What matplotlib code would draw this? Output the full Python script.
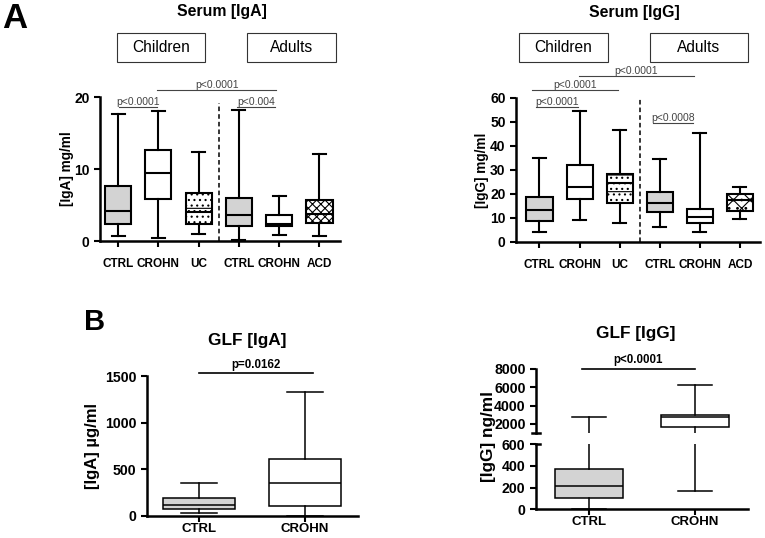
import numpy as np
import matplotlib.pyplot as plt
from matplotlib.patches import Rectangle

plt.rcParams["font.family"] = ["Liberation Sans", "DejaVu Sans"]
plt.rcParams["hatch.linewidth"] = 0.8

# Serum IgA, mg/ml (children: CTRL, CROHN, UC / adults: CTRL, CROHN, ACD)
serum_groups = ["CTRL", "CROHN", "UC", "CTRL", "CROHN", "ACD"]
iga_lo = [0.7, 0.4, 1.0, 0.2, 0.9, 0.7]
iga_q1 = [2.3, 5.8, 2.4, 2.1, 2.1, 2.5]
iga_med = [4.2, 9.5, 4.0, 3.6, 2.4, 3.8]
iga_q3 = [7.7, 12.6, 6.7, 6.0, 3.6, 5.7]
iga_hi = [17.6, 18.0, 12.3, 18.2, 6.3, 12.1]

# Serum IgG, mg/ml
igg_lo = [4.2, 9.1, 8.0, 6.1, 4.3, 9.4]
igg_q1 = [8.7, 17.7, 16.1, 12.3, 7.8, 13.0]
igg_med = [13.3, 23.0, 24.4, 16.1, 10.3, 17.5]
igg_q3 = [18.6, 32.1, 28.3, 20.8, 13.6, 20.1]
igg_hi = [34.8, 54.3, 46.6, 34.5, 45.4, 23.0]

# GLF IgA, ug/ml
glf_groups = ["CTRL", "CROHN"]
glfa_lo = [36, 5]
glfa_q1 = [71, 107]
glfa_med = [118, 357]
glfa_q3 = [196, 614]
glfa_hi = [357, 1325]

# GLF IgG, ng/ml
glfg_lo = [5, 172]
glfg_q1 = [102, 1673]
glfg_med = [218, 2700]
glfg_q3 = [375, 3018]
glfg_hi = [2764, 6290]

# significance brackets: (x1, x2, y, label)
iga_pvals = [(1.02, 1.97, 18.6, "p<0.0001"), (1.97, 4.93, 21.0, "p<0.0001"),
             (3.95, 4.9, 18.6, "p<0.004")]
igg_pvals = [(0.91, 1.96, 56.1, "p<0.0001"), (0.81, 2.96, 63.2, "p<0.0001"),
             (1.99, 4.85, 69.0, "p<0.0001"), (3.83, 4.83, 49.4, "p<0.0008")]


def box_stats(lo, q1, med, q3, hi):
    return [dict(whislo=a, q1=b, med=c, q3=d, whishi=e, fliers=[])
            for a, b, c, d, e in zip(lo, q1, med, q3, hi)]


def draw_boxes(ax, stats, faces, hatches, width, lw):
    art = ax.bxp(stats, widths=width, patch_artist=True, showfliers=False,
                 boxprops=dict(linewidth=lw, edgecolor="black"),
                 whiskerprops=dict(linewidth=lw), capprops=dict(linewidth=lw),
                 medianprops=dict(color="black", linewidth=lw))
    for box, fc, h in zip(art["boxes"], faces, hatches):
        box.set_facecolor(fc)
        box.set_hatch(h)


def style_axes(ax, spine_lw=1.8):
    for s in ["top", "right"]:
        ax.spines[s].set_visible(False)
    for s in ["left", "bottom"]:
        ax.spines[s].set_linewidth(spine_lw)
    ax.tick_params(direction="out", length=4, width=1.5)


def bold_ticks(ax, xsize, ysize):
    for lab in ax.get_xticklabels():
        lab.set_fontweight("bold")
        lab.set_fontsize(xsize)
    for lab in ax.get_yticklabels():
        lab.set_fontweight("bold")
        lab.set_fontsize(ysize)


def bracket(ax, x1, x2, y, txt, color="#444444", lw=0.8, size=7.5, weight="normal", off=1.5):
    ax.plot([x1, x2], [y, y], color=color, lw=lw, clip_on=False)
    ax.annotate(txt, xy=((x1 + x2) / 2, y), xytext=(0, off), textcoords="offset points",
                ha="center", va="baseline", fontsize=size, color=color,
                fontweight=weight, annotation_clip=False)


fig = plt.figure(figsize=(7.65, 5.38), dpi=100)
grey = "#d3d3d3"
serum_faces = [grey, "white", "white", grey, "white", "white"]
pos6 = np.arange(1, 7)

# ---- Serum IgA
ax1 = fig.add_axes([0.1307, 0.552, 0.3137, 0.2677])
draw_boxes(ax1, box_stats(iga_lo, iga_q1, iga_med, iga_q3, iga_hi), serum_faces,
           ["", "", "-...", "", "", "xxxx"], 0.65, 1.5)
ax1.set_xlim(0.55, 6.51)
ax1.set_ylim(0, 20)
ax1.set_yticks([0, 10, 20])
ax1.set_xticks(pos6, serum_groups)
style_axes(ax1)
ax1.tick_params(axis="x", pad=8)
bold_ticks(ax1, 8.5, 10)
ax1.set_ylabel("[IgA] mg/ml", fontsize=9.8, fontweight="bold", labelpad=0)
ax1.plot([3.5, 3.5], [0, 19.2], color="black", lw=1.1, ls=(0, (3, 2)), clip_on=False)
for x1, x2, y, t in iga_pvals:
    bracket(ax1, x1, x2, y, t)

# ---- Serum IgG
ax2 = fig.add_axes([0.6745, 0.5502, 0.319, 0.2682])
draw_boxes(ax2, box_stats(igg_lo, igg_q1, igg_med, igg_q3, igg_hi), serum_faces,
           ["", "", "-...", "", "", "xx.."], 0.65, 1.5)
ax2.set_xlim(0.414, 6.5)
ax2.set_ylim(0, 60)
ax2.set_yticks(np.arange(0, 61, 10))
ax2.set_xticks(pos6, serum_groups)
style_axes(ax2)
ax2.tick_params(axis="x", pad=8)
bold_ticks(ax2, 8.5, 10)
ax2.set_ylabel("[IgG] mg/ml", fontsize=9.8, fontweight="bold", labelpad=1)
ax2.plot([3.5, 3.5], [0, 60], color="black", lw=1.1, ls=(0, (3, 2)), clip_on=False)
for x1, x2, y, t in igg_pvals:
    bracket(ax2, x1, x2, y, t)

# ---- GLF IgA
ax3 = fig.add_axes([0.1922, 0.0409, 0.2758, 0.2602])
draw_boxes(ax3, box_stats(glfa_lo, glfa_q1, glfa_med, glfa_q3, glfa_hi), [grey, "white"],
           ["", ""], 0.67, 1.1)
ax3.set_xlim(0.51, 2.5)
ax3.set_ylim(0, 1500)
ax3.set_yticks([0, 500, 1000, 1500])
ax3.set_xticks([1, 2], glf_groups)
style_axes(ax3)
ax3.tick_params(axis="x", pad=1)
bold_ticks(ax3, 9.5, 10.2)
ax3.set_ylabel("[IgA] µg/ml", fontsize=12, fontweight="bold", labelpad=4)
bracket(ax3, 1.0, 2.075, 1530, "p=0.0162", color="black", lw=1.2, size=8.3,
        weight="bold", off=4)

# ---- GLF IgG (broken axis)
ax4l = fig.add_axes([0.7007, 0.0533, 0.2771, 0.1208])
ax4u = fig.add_axes([0.7007, 0.1952, 0.2771, 0.119])
glfg_stats = box_stats(glfg_lo, glfg_q1, glfg_med, glfg_q3, glfg_hi)
for ax in (ax4l, ax4u):
    draw_boxes(ax, glfg_stats, [grey, "white"], ["", ""], 0.65, 1.1)
    ax.set_xlim(0.5, 2.5)
    style_axes(ax)
ax4l.set_ylim(0, 600)
ax4l.set_yticks([0, 200, 400, 600])
ax4l.set_xticks([1, 2], glf_groups)
ax4l.tick_params(axis="x", pad=1)
bold_ticks(ax4l, 9.5, 10.2)
ax4u.set_ylim(1000, 8000)
ax4u.set_yticks([2000, 4000, 6000, 8000])
bold_ticks(ax4u, 9.5, 10.2)
ax4u.spines["bottom"].set_visible(False)
ax4u.tick_params(axis="x", bottom=False, labelbottom=False)
ax4u.plot([-0.02, 0.02], [0, 0], transform=ax4u.transAxes, color="black", lw=1.8, clip_on=False)
ax4l.plot([0, 0.02], [1, 1], transform=ax4l.transAxes, color="black", lw=1.8, clip_on=False)
bracket(ax4u, 0.93, 2.0, 8050, "p<0.0001", color="black", lw=1.2, size=8.3,
        weight="bold", off=4)
fig.text(0.638, 0.188, "[IgG] ng/ml", rotation=90, ha="center", va="center",
         fontsize=12.4, fontweight="bold")

# ---- titles, panel letters, group boxes
fig.text(0.290, 0.978, "Serum [IgA]", ha="center", va="center", fontsize=11.4, fontweight="bold")
fig.text(0.829, 0.976, "Serum [IgG]", ha="center", va="center", fontsize=11.4, fontweight="bold")
fig.text(0.323, 0.368, "GLF [IgA]", ha="center", va="center", fontsize=12.4, fontweight="bold")
fig.text(0.831, 0.381, "GLF [IgG]", ha="center", va="center", fontsize=12.4, fontweight="bold")
fig.text(0.003, 0.966, "A", ha="left", va="center", fontsize=25, fontweight="bold")
fig.text(0.110, 0.401, "B", ha="left", va="center", fontsize=21, fontweight="bold")

W, H = 765, 538
for label, x0, x1 in [("Children", 117, 205), ("Adults", 247, 336),
                      ("Children", 519, 608), ("Adults", 650, 748)]:
    fig.add_artist(Rectangle((x0 / W, 1 - 62 / H), (x1 - x0) / W, 29 / H,
                             transform=fig.transFigure, fill=False, ec="#333333", lw=0.8))
    fig.text((x0 + x1) / 2 / W, 1 - 47.5 / H, label, ha="center", va="center", fontsize=11.2)

fig.savefig("out.png", dpi=100)
